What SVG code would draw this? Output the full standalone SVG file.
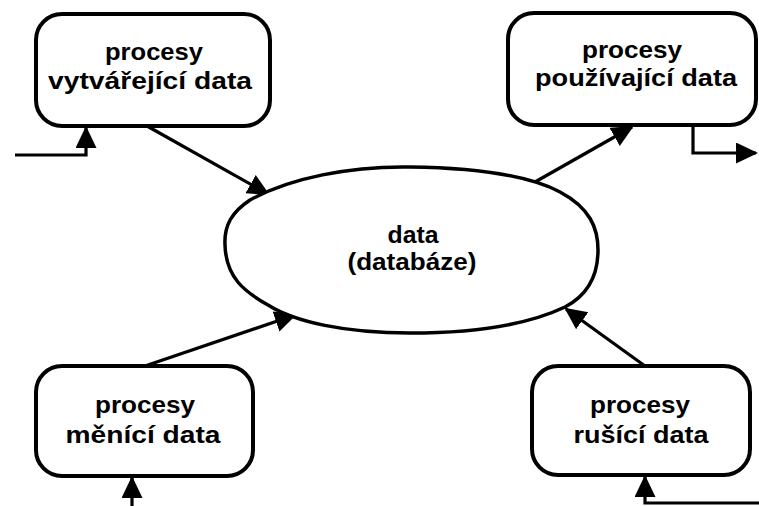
<svg xmlns="http://www.w3.org/2000/svg" width="759" height="506" viewBox="0 0 759 506">
<defs>
<style>
.box{fill:#fff;stroke:#000;stroke-width:4}
.ell{fill:#fff;stroke:#000;stroke-width:3.5}
.t{font-family:"Liberation Sans",Arial,sans-serif;font-weight:bold;font-size:24.5px;fill:#000;text-anchor:middle}
.c{fill:none;stroke:#000;stroke-width:3.2;marker-end:url(#ah)}
</style>
<marker id="ah" markerUnits="userSpaceOnUse" markerWidth="24" markerHeight="22" refX="20" refY="10.5" orient="auto" viewBox="0 0 24 22">
<path d="M0,0 L22,10.5 L0,21 Z" fill="#000"/>
</marker>
</defs>
<rect width="759" height="506" fill="#fff"/>
<g id="connectors">
<polyline class="c" points="15,155 86,155 86,128"/>
<line class="c" x1="147" y1="126" x2="268" y2="194"/>
<line class="c" x1="535" y1="182" x2="632" y2="127"/>
<polyline class="c" points="693,125 693,153 756,153"/>
<line class="c" x1="145" y1="366" x2="295" y2="315"/>
<line class="c" x1="132" y1="506" x2="132" y2="478"/>
<line class="c" x1="645" y1="366" x2="566" y2="309"/>
<polyline class="c" points="759,503 645,503 645,477"/>
</g>
<g id="n-create">
<rect class="box" x="36" y="14" width="234" height="112" rx="26" ry="26"/>
<text class="t" x="154" y="60" textLength="98" lengthAdjust="spacingAndGlyphs">procesy</text>
<text class="t" x="150" y="89" textLength="204" lengthAdjust="spacingAndGlyphs">vytvářející data</text>
</g>
<g id="n-use">
<rect class="box" x="508" y="13" width="248" height="112" rx="26" ry="26"/>
<text class="t" x="632" y="58" textLength="100" lengthAdjust="spacingAndGlyphs">procesy</text>
<text class="t" x="636" y="86" textLength="202" lengthAdjust="spacingAndGlyphs">používající data</text>
</g>
<g id="n-data">
<path class="ell" d="M225,245 C224,225 232,212 250,200 C290,178 350,166 410,167 C480,168 530,176 560,192 C590,208 598,228 598,250 C598,275 588,295 565,307 C525,326 470,333 410,333 C345,333 295,322 268,305 C245,292 226,278 225,245 Z"/>
<text class="t" x="413" y="243" textLength="51" lengthAdjust="spacingAndGlyphs">data</text>
<text class="t" x="412" y="270" textLength="129" lengthAdjust="spacingAndGlyphs">(databáze)</text>
</g>
<g id="n-change">
<rect class="box" x="36" y="366" width="217" height="110" rx="26" ry="26"/>
<text class="t" x="145" y="413" textLength="100" lengthAdjust="spacingAndGlyphs">procesy</text>
<text class="t" x="143" y="443" textLength="155" lengthAdjust="spacingAndGlyphs">měnící data</text>
</g>
<g id="n-delete">
<rect class="box" x="532" y="366" width="218" height="109" rx="26" ry="26"/>
<text class="t" x="640" y="413" textLength="100" lengthAdjust="spacingAndGlyphs">procesy</text>
<text class="t" x="641" y="443" textLength="135" lengthAdjust="spacingAndGlyphs">rušící data</text>
</g>
</svg>
